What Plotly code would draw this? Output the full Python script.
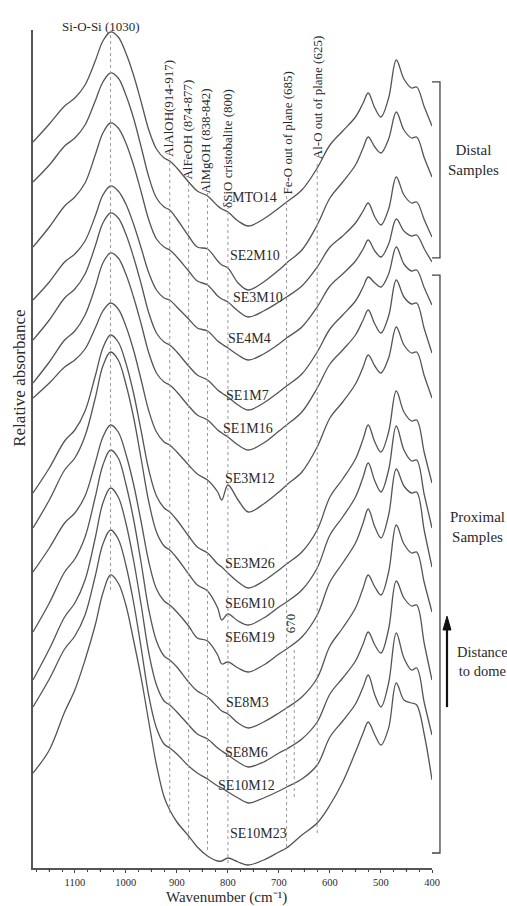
import plotly.graph_objects as go

# ---------------- data ----------------
wavenumber = [1182, 1150, 1120, 1100, 1080, 1060, 1045, 1030,
              1015, 1000, 985, 970, 955, 940, 925, 914,
              900, 877, 860, 840, 820, 812, 800, 780, 760,
              730, 700, 685, 655, 625,
              600, 575, 550, 535, 525,
              512, 500, 485, 470, 455, 440, 430, 415, 400]

samples = ["MTO14", "SE2M10", "SE3M10", "SE4M4", "SE1M7", "SE1M16", "SE3M12",
           "SE3M26", "SE6M10", "SE6M19", "SE8M3", "SE8M6", "SE10M12", "SE10M23"]

# stacked relative absorbance (arbitrary units, offset spectra)
MTO14 = [726, 744, 762, 770, 783, 807, 827, 836,
         831, 815, 793, 766, 738, 719, 710, 707,
         700, 686, 677, 672, 662, 659, 656, 647, 642,
         649, 660, 666, 678, 700,
         723, 737, 751, 765, 775,
         760, 751, 770, 808, 789, 780, 781, 761, 742]
SE2M10 = [686, 703, 722, 730, 743, 767, 786, 795,
          790, 773, 750, 721, 691, 670, 661, 658,
          649, 632, 621, 619, 607, 603, 600, 585, 578,
          586, 598, 605, 618, 643,
          670, 686, 703, 720, 731,
          721, 715, 729, 756, 738, 730, 731, 710, 691]
SE3M10 = [621, 641, 662, 671, 685, 713, 735, 745,
          740, 725, 703, 676, 648, 629, 621, 618,
          611, 597, 587, 583, 572, 569, 566, 557, 551,
          557, 566, 571, 582, 601,
          621, 632, 645, 657, 665,
          651, 643, 659, 691, 673, 665, 666, 648, 631]
SE4M4 = [568, 586, 606, 614, 627, 652, 673, 682,
         677, 664, 644, 620, 595, 578, 570, 568,
         561, 549, 540, 537, 527, 524, 520, 513, 508,
         514, 524, 530, 541, 561,
         582, 594, 607, 619, 628,
         617, 611, 624, 649, 637, 632, 633, 619, 606]
SE1M7 = [528, 548, 570, 579, 594, 622, 645, 655,
         650, 634, 611, 584, 555, 535, 526, 523,
         516, 502, 493, 488, 478, 475, 471, 463, 458,
         465, 476, 482, 494, 516,
         539, 553, 567, 581, 591,
         585, 581, 594, 621, 604, 597, 598, 580, 563]
SE1M16 = [485, 506, 528, 537, 553, 581, 605, 615,
          610, 594, 571, 544, 515, 495, 486, 483,
          476, 462, 453, 448, 438, 435, 431, 423, 418,
          425, 437, 443, 456, 480,
          504, 518, 533, 548, 558,
          544, 535, 552, 588, 571, 564, 565, 539, 515]
SE3M12 = [470, 485, 501, 508, 519, 540, 557, 565,
          559, 542, 518, 488, 457, 436, 426, 423,
          416, 403, 394, 388, 376, 368, 383, 368, 356,
          364, 376, 383, 396, 421,
          450, 466, 484, 501, 513,
          502, 495, 510, 541, 523, 515, 516, 492, 470]
SE3M26 = [375, 400, 427, 438, 457, 492, 520, 533,
          526, 505, 475, 437, 398, 372, 360, 356,
          348, 332, 321, 315, 304, 301, 295, 286, 280,
          287, 298, 304, 316, 338,
          371, 389, 409, 429, 443,
          426, 416, 436, 477, 456, 447, 448, 415, 385]
SE6M10 = [340, 368, 398, 410, 432, 470, 502, 516,
          508, 484, 451, 409, 366, 336, 322, 318,
          310, 294, 283, 277, 260, 248, 254, 247, 243,
          250, 261, 266, 278, 300,
          333, 351, 371, 391, 405,
          387, 376, 398, 442, 418, 407, 408, 373, 340]
SE6M19 = [296, 320, 345, 355, 372, 405, 431, 443,
          436, 414, 384, 346, 306, 279, 267, 263,
          256, 242, 230, 227, 213, 204, 206, 200, 196,
          203, 214, 219, 231, 253,
          286, 305, 325, 345, 359,
          341, 330, 353, 399, 382, 375, 376, 337, 301]
SE8M3 = [236, 265, 296, 309, 331, 371, 403, 418,
         410, 384, 349, 305, 258, 227, 212, 208,
         201, 186, 177, 171, 161, 157, 154, 145, 140,
         146, 155, 160, 171, 190,
         222, 240, 260, 280, 293,
         281, 273, 296, 343, 324, 315, 316, 285, 256]
SE8M6 = [188, 219, 251, 265, 288, 330, 365, 380,
         371, 345, 308, 263, 215, 183, 167, 163,
         156, 143, 134, 129, 120, 117, 113, 106, 101,
         106, 115, 119, 129, 146,
         174, 190, 207, 224, 236,
         223, 215, 239, 287, 270, 262, 263, 224, 188]
SE10M12 = [161, 189, 219, 232, 253, 292, 324, 338,
           329, 303, 266, 220, 172, 140, 124, 120,
           114, 102, 95, 89, 82, 80, 76, 70, 65,
           70, 77, 81, 89, 103,
           131, 147, 164, 181, 193,
           173, 161, 185, 235, 210, 198, 200, 165, 133]
SE10M23 = [95, 118, 156, 178, 208, 243, 275, 293,
           285, 263, 228, 190, 146, 103, 71, 58,
           46, 32, 21, 12, 7, 7, 10, 6, 3,
           8, 16, 20, 33, 45,
           63, 86, 116, 135, 146,
           133, 123, 140, 185, 168, 165, 163, 133, 88]

spectra = [MTO14, SE2M10, SE3M10, SE4M4, SE1M7, SE1M16, SE3M12,
           SE3M26, SE6M10, SE6M19, SE8M3, SE8M6, SE10M12, SE10M23]

bands = [914, 877, 840, 800, 685, 625, 670]
band_labels = ["AlAlOH(914-917)", "AlFeOH (874-877)",
               "AlMgOH (838-842)", "δSiO cristobalite (800)",
               "Fe-O out of plane (685)", "Al-O out of plane (625)", "670"]
main_band = 1030
main_band_label = "Si-O-Si (1030)"

tick_labels = [1100, 1000, 900, 800, 700, 600, 500, 400]
half_ticks = [1150, 1050, 950, 850, 750, 650, 550, 450]

# ---------------- layout helpers (positions/styles) ----------------
FONT = "Liberation Serif, Times New Roman, serif"
LINE_COLOR = "#555555"
TXT = "#2a2a2a"

# sample label positions (wavenumber, height)
label_pos = [(747, 671), (747, 613), (741, 571), (757, 530), (761, 473),
             (761, 440), (757, 390), (757, 305), (757, 265), (757, 231),
             (761, 166), (763, 116), (763, 83), (741, 35)]

# dotted band line extents (bottom, top) in data height
main_line_extent = (278, 836)
band_line_extent = [(55, 710), (28, 688), (18, 675), (5, 660),
                    (21, 675), (35, 705), (71, 221)]
# band label anchor (y height, x pixel shift)
band_label_pos = [(760, -2), (738, -2), (727, -3), (720, -1), (735, 0),
                  (770, 0), (245, -4)]

fig = go.Figure()

for name, vals in zip(samples, spectra):
    fig.add_trace(go.Scatter(
        x=wavenumber, y=vals, mode="lines", name=name,
        line=dict(color=LINE_COLOR, width=1.3, shape="spline", smoothing=1.0),
        showlegend=False, hoverinfo="skip"))

shapes = []
dot = dict(color="#9a9a9a", width=1, dash="dot")
shapes.append(dict(type="line", xref="x", yref="y", x0=main_band, x1=main_band,
                   y0=main_line_extent[0], y1=main_line_extent[1], line=dot))
for b, (y0, y1) in zip(bands, band_line_extent):
    shapes.append(dict(type="line", xref="x", yref="y", x0=b, x1=b, y0=y0, y1=y1,
                       line=dot))

# longer ticks at the 50s (in addition to minor 25 ticks)
for t in half_ticks:
    shapes.append(dict(type="line", xref="x", yref="paper", x0=t, x1=t,
                       y0=0, y1=-3.5 / 838, line=dict(color="#444", width=1.2)))

# brackets (paper coords)
shapes.append(dict(type="path", xref="paper", yref="paper",
                   path="M 1.0,0.938 L 1.02,0.938 L 1.02,0.728 L 1.0,0.728",
                   line=dict(color="#444", width=1.3)))
shapes.append(dict(type="path", xref="paper", yref="paper",
                   path="M 1.0,0.7076 L 1.02,0.7076 L 1.02,0.0179 L 1.0,0.0179",
                   line=dict(color="#444", width=1.3)))
# arrow "distance to dome"
shapes.append(dict(type="line", xref="paper", yref="paper", x0=1.0376, x1=1.0376,
                   y0=0.192, y1=0.288, line=dict(color="#111", width=2.2)))
shapes.append(dict(type="path", xref="paper", yref="paper",
                   path="M 1.0276,0.284 L 1.0476,0.284 L 1.0376,0.3005 Z",
                   fillcolor="#111", line=dict(color="#111", width=1)))

annotations = []
for name, (lx, ly) in zip(samples, label_pos):
    annotations.append(dict(x=lx, y=ly, xref="x", yref="y", text=name,
                            showarrow=False, xanchor="center", yanchor="middle",
                            font=dict(family=FONT, size=14, color=TXT)))

for lab, b, (by, sh) in zip(band_labels, bands, band_label_pos):
    annotations.append(dict(x=b, y=by, xref="x", yref="y", text=lab,
                            showarrow=False, textangle=-90, xshift=sh,
                            xanchor="center", yanchor="middle",
                            font=dict(family=FONT, size=13, color=TXT)))

annotations += [
    dict(x=0.170, y=1.004, xref="paper", yref="paper", text=main_band_label,
         showarrow=False, xanchor="center", yanchor="middle",
         font=dict(family=FONT, size=13, color=TXT)),
    dict(x=1.103, y=0.845, xref="paper", yref="paper", text="Distal<br>Samples",
         showarrow=False, xanchor="center", yanchor="middle",
         font=dict(family=FONT, size=15, color=TXT), align="center"),
    dict(x=1.113, y=0.407, xref="paper", yref="paper", text="Proximal<br>Samples",
         showarrow=False, xanchor="center", yanchor="middle",
         font=dict(family=FONT, size=15, color=TXT), align="center"),
    dict(x=1.0576, y=0.246, xref="paper", yref="paper", text="Distance<br>to dome",
         showarrow=False, xanchor="left", yanchor="middle",
         font=dict(family=FONT, size=14.5, color=TXT), align="center"),
    dict(x=0.484, y=-0.0352, xref="paper", yref="paper",
         text="Wavenumber (cm\u207b\u00b9)", showarrow=False,
         xanchor="center", yanchor="middle", borderpad=0,
         font=dict(family=FONT, size=15, color=TXT)),
    dict(x=-0.0326, y=0.585, xref="paper", yref="paper",
         text="Relative absorbance", textangle=-90, showarrow=False,
         xanchor="center", yanchor="middle",
         font=dict(family=FONT, size=17, color=TXT)),
]

fig.update_layout(
    width=507, height=906,
    margin=dict(l=33, r=75, t=30, b=38),
    paper_bgcolor="white", plot_bgcolor="white",
    shapes=shapes, annotations=annotations,
    xaxis=dict(range=[1182, 400], showgrid=False, zeroline=False,
               showline=True, linecolor="#555", linewidth=1.5,
               tickmode="array", tickvals=tick_labels,
               ticktext=[str(v) for v in tick_labels],
               ticks="outside", ticklen=3.5, tickwidth=1.2, tickcolor="#444",
               minor=dict(tickmode="linear", tick0=400, dtick=25, ticks="outside",
                          ticklen=2, tickwidth=1, tickcolor="#444"),
               tickfont=dict(family=FONT, size=10.5, color=TXT)),
    yaxis=dict(range=[0, 838], showgrid=False, zeroline=False,
               showline=True, linecolor="#555", linewidth=1.5,
               showticklabels=False, ticks=""),
)

fig.write_html("out.html",
               config={"displayModeBar": False},
               post_script="document.body.style.margin='0px';"
                           "document.body.style.overflow='hidden';")
